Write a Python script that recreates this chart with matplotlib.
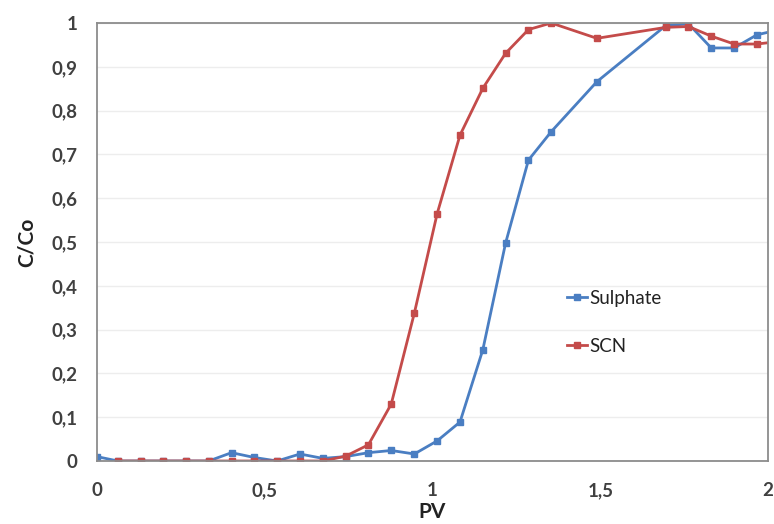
import matplotlib
matplotlib.use("Agg")
import matplotlib.pyplot as plt
from matplotlib.ticker import FixedLocator, FuncFormatter

plt.rcParams['font.family'] = ['Lato', 'DejaVu Sans']

# Pore volumes (PV) and relative concentrations C/Co
pv_sulphate = [0.0, 0.062, 0.130, 0.197, 0.265, 0.333, 0.401, 0.469, 0.537, 0.605,
               0.673, 0.741, 0.809, 0.877, 0.946, 1.014, 1.082, 1.150, 1.218,
               1.286, 1.354, 1.490, 1.695, 1.763, 1.831, 1.899, 1.967, 2.035]
c_sulphate = [0.010, 0.0, 0.0, 0.0, 0.0, 0.0, 0.019, 0.008, 0.0, 0.016,
              0.006, 0.010, 0.019, 0.024, 0.016, 0.046, 0.089, 0.254, 0.498,
              0.687, 0.752, 0.866, 0.994, 0.998, 0.943, 0.943, 0.973, 0.985]

pv_scn = [0.062, 0.130, 0.197, 0.265, 0.333, 0.401, 0.469, 0.537, 0.605,
          0.673, 0.741, 0.809, 0.877, 0.946, 1.014, 1.082, 1.150, 1.218,
          1.286, 1.354, 1.490, 1.695, 1.763, 1.831, 1.899, 1.967, 2.035]
c_scn = [0.0, 0.0, 0.0, 0.0, 0.0, 0.0, 0.0, 0.0, 0.0,
         0.0, 0.011, 0.037, 0.130, 0.338, 0.565, 0.744, 0.851, 0.931,
         0.985, 1.000, 0.965, 0.990, 0.992, 0.970, 0.952, 0.952, 0.958]

x_ticks = [0, 0.5, 1, 1.5, 2]
y_ticks = [round(0.1 * i, 1) for i in range(11)]

blue = '#4A7EC2'
red = '#C44B4A'
text_col = '#404040'

fig = plt.figure(figsize=(7.74, 5.24), dpi=100)
ax = fig.add_axes([97 / 774, 1 - 461 / 524, (768 - 97) / 774, (461 - 23) / 524])

ax.plot(pv_sulphate, c_sulphate, color=blue, lw=2.0, marker='s', ms=5,
        label='Sulphate', clip_on=True)
ax.plot(pv_scn, c_scn, color=red, lw=2.0, marker='s', ms=5,
        label='SCN', clip_on=True)

ax.set_xlim(0, 2)
ax.set_ylim(0, 1)


def comma_fmt(v, pos):
    return ('%g' % v).replace('.', ',')


ax.xaxis.set_major_locator(FixedLocator(x_ticks))
ax.yaxis.set_major_locator(FixedLocator(y_ticks))
ax.xaxis.set_major_formatter(FuncFormatter(comma_fmt))
ax.yaxis.set_major_formatter(FuncFormatter(comma_fmt))
ax.tick_params(axis='both', length=0, labelsize=13.5, colors=text_col)
ax.tick_params(axis='x', pad=15)
ax.tick_params(axis='y', pad=14)
for lab in ax.get_xticklabels() + ax.get_yticklabels():
    lab.set_fontweight('bold')
    lab.set_color(text_col)

ax.grid(axis='y', color='#EDEDED', lw=1.0)
ax.set_axisbelow(True)
for sp in ax.spines.values():
    sp.set_color('#8C8C8C')
    sp.set_linewidth(1.3)

ax.set_ylabel('C/Co', fontsize=15, fontweight='bold', color='#222222', labelpad=11)
ax.set_xlabel('PV', fontsize=15, fontweight='bold', color='#222222', labelpad=2)

leg = ax.legend(loc='center left', bbox_to_anchor=(0.700, 0.317), frameon=False,
                fontsize=13.5, handlelength=1.1, handletextpad=0.12,
                labelspacing=1.65, borderpad=0, borderaxespad=0,
                markerscale=0.75)
for t in leg.get_texts():
    t.set_color('#222222')

fig.savefig('out.png', dpi=100)
